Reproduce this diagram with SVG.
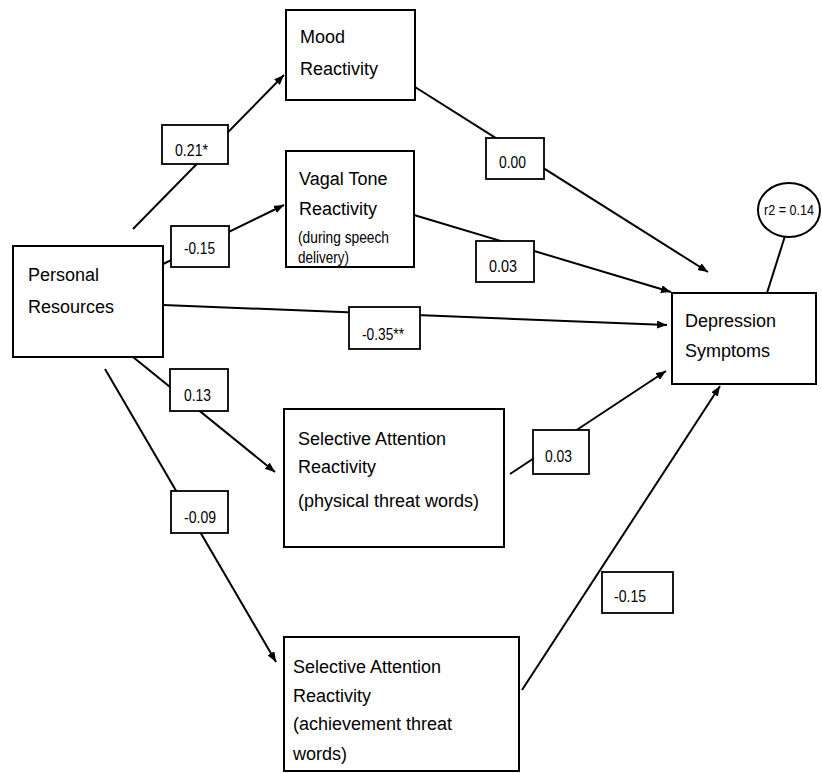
<svg xmlns="http://www.w3.org/2000/svg" width="822" height="773" viewBox="0 0 822 773">
  <style>
    .box { fill: #fff; stroke: #000; stroke-width: 2; }
    .lbl { fill: #fff; stroke: #000; stroke-width: 1.8; }
    .edge { fill: none; stroke: #000; stroke-width: 2; }
    .t { font-family: "Liberation Sans", Arial, sans-serif; font-size: 18px; fill: #000; }
    .s { font-family: "Liberation Sans", Arial, sans-serif; font-size: 16.5px; fill: #000; }
  </style>
  <defs>
    <marker id="arrow" markerUnits="userSpaceOnUse" markerWidth="10" markerHeight="8" refX="10" refY="4" orient="auto">
      <path d="M0,0 L10,4 L0,8 z" fill="#000"/>
    </marker>
  </defs>
  <rect width="822" height="773" fill="#fff"/>

  <!-- paths, drawn first so the coefficient boxes sit on top -->
  <g id="connectors">
    <line class="edge" x1="133" y1="229" x2="284" y2="75" marker-end="url(#arrow)"/>
    <line class="edge" x1="157" y1="267" x2="284" y2="205" marker-end="url(#arrow)"/>
    <line class="edge" x1="415" y1="87" x2="708" y2="272" marker-end="url(#arrow)"/>
    <line class="edge" x1="414" y1="215" x2="671" y2="292" marker-end="url(#arrow)"/>
    <line class="edge" x1="163" y1="305" x2="667" y2="325" marker-end="url(#arrow)"/>
    <line class="edge" x1="133" y1="357" x2="275" y2="472" marker-end="url(#arrow)"/>
    <line class="edge" x1="105" y1="369" x2="276" y2="662" marker-end="url(#arrow)"/>
    <line class="edge" x1="510" y1="474" x2="666" y2="371" marker-end="url(#arrow)"/>
    <line class="edge" x1="522" y1="690" x2="720" y2="386" marker-end="url(#arrow)"/>
    <line class="edge" x1="785" y1="236" x2="767" y2="293"/>
  </g>

  <!-- path coefficients -->
  <g id="coefficients">
    <rect class="lbl" x="162" y="125" width="66" height="39"/>
    <text class="s" x="175" y="156" textLength="33" lengthAdjust="spacingAndGlyphs">0.21*</text>
    <rect class="lbl" x="171" y="226" width="58" height="41"/>
    <text class="s" x="184" y="254" textLength="31" lengthAdjust="spacingAndGlyphs">-0.15</text>
    <rect class="lbl" x="486" y="138" width="58" height="41"/>
    <text class="s" x="499" y="168" textLength="27" lengthAdjust="spacingAndGlyphs">0.00</text>
    <rect class="lbl" x="476" y="241" width="58" height="41"/>
    <text class="s" x="489" y="272" textLength="28" lengthAdjust="spacingAndGlyphs">0.03</text>
    <rect class="lbl" x="349" y="307" width="71" height="42"/>
    <text class="s" x="362" y="340" textLength="42" lengthAdjust="spacingAndGlyphs">-0.35**</text>
    <rect class="lbl" x="170" y="369" width="58" height="42"/>
    <text class="s" x="184" y="401" textLength="27" lengthAdjust="spacingAndGlyphs">0.13</text>
    <rect class="lbl" x="171" y="491" width="57" height="42"/>
    <text class="s" x="184" y="523" textLength="32" lengthAdjust="spacingAndGlyphs">-0.09</text>
    <rect class="lbl" x="533" y="430" width="56" height="44"/>
    <text class="s" x="545" y="462" textLength="27" lengthAdjust="spacingAndGlyphs">0.03</text>
    <rect class="lbl" x="602" y="572" width="71" height="41"/>
    <text class="s" x="614" y="602" textLength="32" lengthAdjust="spacingAndGlyphs">-0.15</text>
  </g>

  <g id="mood">
    <rect class="box" x="286" y="10" width="129" height="90"/>
    <text class="t" x="300" y="43">Mood</text>
    <text class="t" x="300" y="75">Reactivity</text>
  </g>

  <g id="vagal">
    <rect class="box" x="286" y="151" width="128" height="116"/>
    <text class="t" x="299" y="185">Vagal Tone</text>
    <text class="t" x="299" y="215">Reactivity</text>
    <text class="s" x="298" y="243" textLength="91" lengthAdjust="spacingAndGlyphs">(during speech</text>
    <text class="s" x="298" y="263" textLength="51" lengthAdjust="spacingAndGlyphs">delivery)</text>
  </g>

  <g id="resources">
    <rect class="box" x="13" y="246" width="150" height="111"/>
    <text class="t" x="28" y="281">Personal</text>
    <text class="t" x="28" y="313">Resources</text>
  </g>

  <g id="depression">
    <rect class="box" x="672" y="293" width="144" height="91"/>
    <text class="t" x="685" y="327">Depression</text>
    <text class="t" x="685" y="357">Symptoms</text>
  </g>

  <g id="r2">
    <ellipse class="box" cx="789" cy="210" rx="31" ry="27"/>
    <text x="789" y="215" text-anchor="middle" font-family="Liberation Sans, Arial, sans-serif" font-size="14" textLength="50" lengthAdjust="spacingAndGlyphs">r2 = 0.14</text>
  </g>

  <g id="attention-physical">
    <rect class="box" x="284" y="409" width="220" height="138"/>
    <text class="t" x="298" y="445">Selective Attention</text>
    <text class="t" x="298" y="473">Reactivity</text>
    <text class="t" x="298" y="507">(physical threat words)</text>
  </g>

  <g id="attention-achievement">
    <rect class="box" x="284" y="637" width="235" height="134"/>
    <text class="t" x="293" y="673">Selective Attention</text>
    <text class="t" x="293" y="702">Reactivity</text>
    <text class="t" x="293" y="730">(achievement threat</text>
    <text class="t" x="293" y="760">words)</text>
  </g>
</svg>
